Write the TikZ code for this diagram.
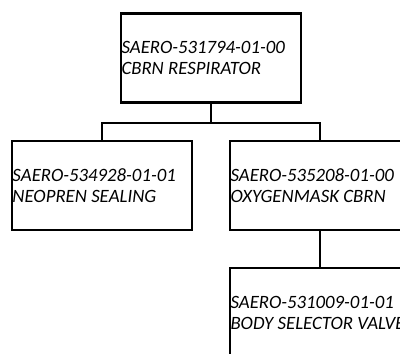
\documentclass[tikz,border=0pt]{standalone}
\usepackage{fontspec}
\setmainfont{Carlito}
\usepackage{tikz}

\begin{document}
\begin{tikzpicture}[
  x=1pt, y=1pt,
  part/.style={rectangle, draw, line width=2.4pt, minimum width=180pt,
               minimum height=89pt, inner sep=0pt},
  tag/.style={anchor=west, align=left, inner xsep=1.5pt, inner ysep=0pt,
              font=\fontsize{18.8}{21}\selectfont\itshape},
  link/.style={draw, line width=2.4pt}
]
\useasboundingbox (0,0) rectangle (400,-354);
\clip (0,0) rectangle (400,-354);

\node[part] (resp) at (211, -58) {};
\node[tag] at (resp.west) {SAERO-531794-01-00\\CBRN RESPIRATOR};

\node[part] (seal) at (102, -185.5) {};
\node[tag] at (seal.west) {SAERO-534928-01-01\\NEOPREN SEALING};

\node[part] (mask) at (320, -185.5) {};
\node[tag] at (mask.west) {SAERO-535208-01-00\\OXYGENMASK CBRN};

\node[part] (valve) at (320, -312.5) {};
\node[tag] at (valve.west) {SAERO-531009-01-01\\BODY SELECTOR VALVE};

\draw[link] (resp.south) -- ++(0,-19) coordinate (bar);
\draw[link] (seal.north) |- (bar) -| (mask.north);
\draw[link] (mask.south) -- (valve.north);
\end{tikzpicture}
\end{document}
